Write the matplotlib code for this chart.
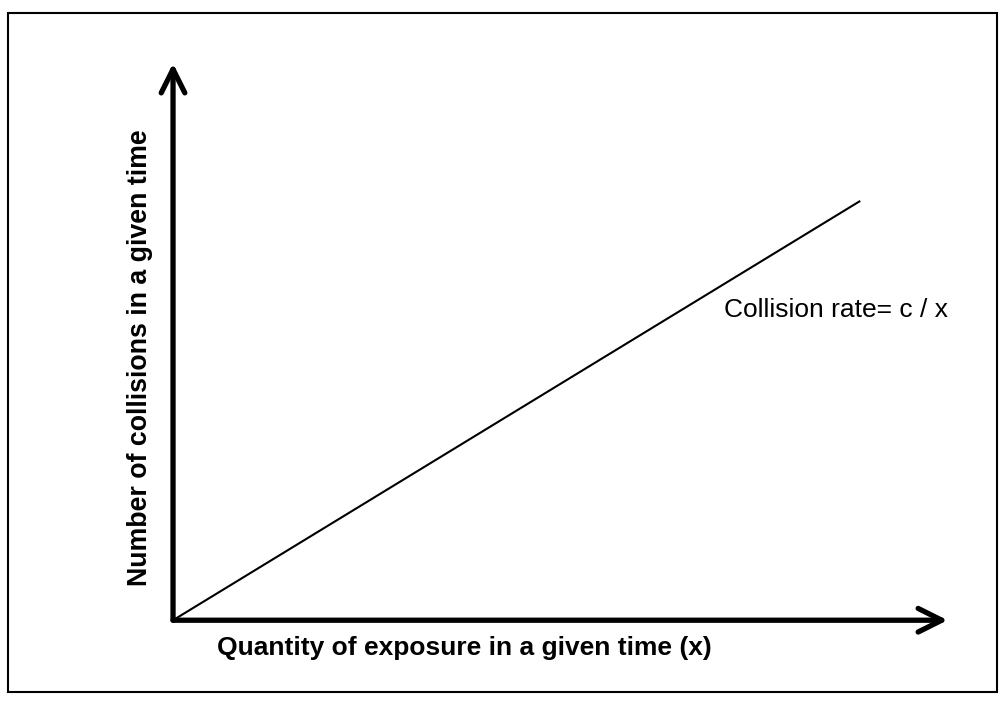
import matplotlib
matplotlib.use("Agg")
import matplotlib.pyplot as plt
from matplotlib.patches import Rectangle

plt.rcParams['font.family'] = ['Liberation Sans', 'DejaVu Sans']

# data: a straight line from the origin (collisions vs exposure)
exposure = [0, 0.886]
collisions = [0, 0.752]

x_label = "Quantity of exposure in a given time (x)"
y_label = "Number of collisions in a given time"
line_label = "Collision rate= c / x"

fig = plt.figure(figsize=(10.06, 7.04), dpi=100)
fig.patch.set_facecolor('white')

# outer frame
fig.patches.append(Rectangle((0.008, 0.017), 0.983, 0.9645, transform=fig.transFigure,
                             fill=False, edgecolor='black', lw=1.5))

ax = fig.add_axes([0.172, 0.119, 0.770, 0.791])
ax.set_xlim(0, 1)
ax.set_ylim(0, 1)
ax.axis('off')

ax.plot(exposure, collisions, color='black', lw=1.5)

arrow_kw = dict(arrowstyle='->,head_length=1.7,head_width=0.85', lw=3.8, color='black',
                capstyle='round', joinstyle='round', shrinkA=0, shrinkB=0)
ax.annotate('', xy=(1, 0), xytext=(0, 0), xycoords='axes fraction', arrowprops=arrow_kw)
ax.annotate('', xy=(0, 1), xytext=(0, 0), xycoords='axes fraction', arrowprops=arrow_kw)

fig.text(140/1006, 1 - 358/704, y_label, rotation=90, ha='center', va='center',
         fontsize=19.3, fontweight='bold')
fig.text(464/1006, 1 - 648/704, x_label, ha='center', va='center',
         fontsize=19, fontweight='bold')
fig.text(724/1006, 1 - 310/704, line_label, ha='left', va='center', fontsize=19)

fig.savefig("out.png", dpi=100, facecolor='white')
